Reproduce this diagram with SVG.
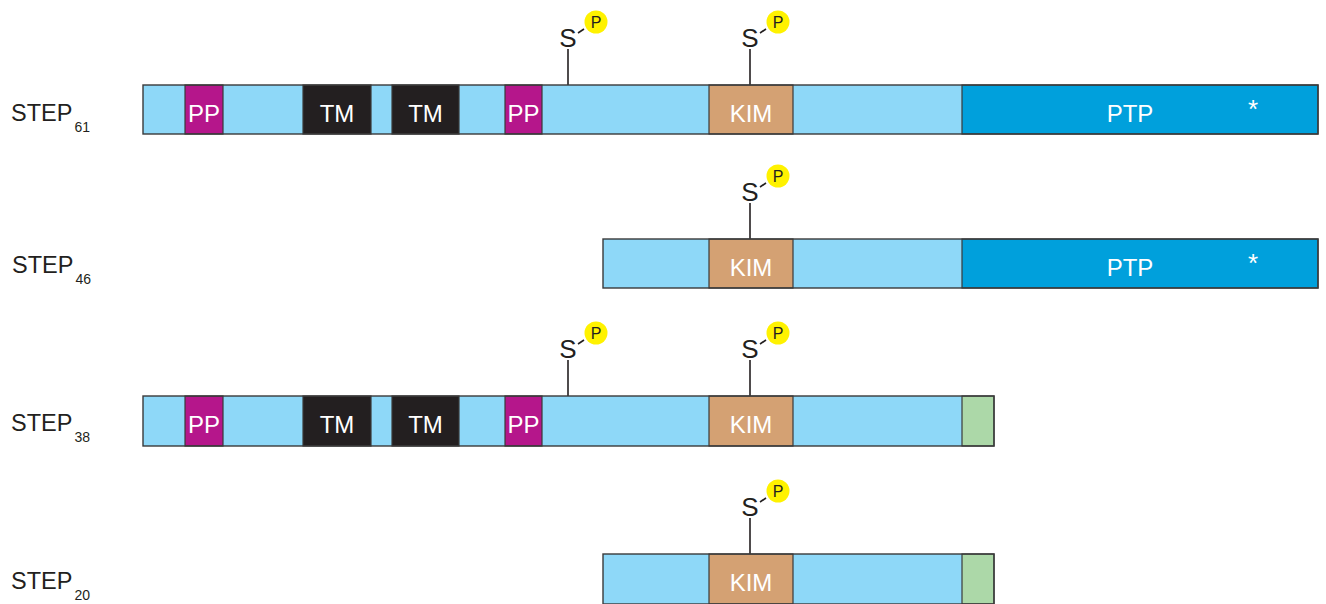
<svg xmlns="http://www.w3.org/2000/svg" width="1326" height="604" viewBox="0 0 1326 604">
  <style>
    .lb { fill: #8ed8f8; }
    .pp { fill: #b5168b; }
    .tm { fill: #231f20; }
    .kim { fill: #d4a173; }
    .ptp { fill: #00a0dc; }
    .gr { fill: #acd8a8; }
    .seg { stroke: #3a3a3a; stroke-width: 1.2; }
    .frame { fill: none; stroke: #3a3a3a; stroke-width: 1.4; }
    .dl { font-family: "Liberation Sans", Arial, sans-serif; font-size: 24px; fill: #ffffff; text-anchor: middle; }
    .ast { font-family: "Liberation Sans", Arial, sans-serif; font-size: 26px; fill: #ffffff; text-anchor: middle; }
    .name { font-family: "Liberation Sans", Arial, sans-serif; font-size: 23.5px; fill: #231f20; }
    .sub { font-size: 14px; }
    .s { font-family: "Liberation Sans", Arial, sans-serif; font-size: 26px; fill: #231f20; text-anchor: middle; }
    .p { font-family: "Liberation Sans", Arial, sans-serif; font-size: 16px; fill: #231f20; text-anchor: middle; }
    .stalk { stroke: #231f20; stroke-width: 1.6; fill: none; }
    .dot { fill: #fff200; }
  </style>
  <defs>
    <!-- phosphoserine marker, origin at the top of the stalk on the bar -->
    <g id="phos">
      <line class="stalk" x1="0" y1="0" x2="0" y2="-36"/>
      <text class="s" x="0" y="-38">S</text>
      <line class="stalk" x1="10" y1="-52" x2="16" y2="-56"/>
      <circle class="dot" cx="28" cy="-63" r="11.5"/>
      <text class="p" x="28" y="-57">P</text>
    </g>
  </defs>

  <!-- STEP61 -->
  <g id="step61">
    <text class="name" x="11" y="121">STEP<tspan class="sub" dx="2" dy="11">61</tspan></text>
    <use href="#phos" x="568" y="85"/>
    <use href="#phos" x="750" y="85"/>
    <rect class="lb" x="143" y="85" width="819" height="49"/>
    <rect class="pp seg" x="185" y="85" width="38" height="49"/>
    <rect class="tm seg" x="303" y="85" width="68" height="49"/>
    <rect class="tm seg" x="392" y="85" width="67" height="49"/>
    <rect class="pp seg" x="505" y="85" width="37" height="49"/>
    <rect class="kim seg" x="709" y="85" width="84" height="49"/>
    <rect class="ptp seg" x="962" y="85" width="356" height="49"/>
    <rect class="frame" x="143" y="85" width="1175" height="49"/>
    <text class="dl" x="204" y="122">PP</text>
    <text class="dl" x="337" y="122">TM</text>
    <text class="dl" x="425.500" y="122">TM</text>
    <text class="dl" x="523.500" y="122">PP</text>
    <text class="dl" x="751" y="122">KIM</text>
    <text class="dl" x="1130" y="122">PTP</text>
    <text class="ast" x="1253" y="118">*</text>
  </g>

  <!-- STEP46 -->
  <g id="step46">
    <text class="name" x="12" y="273">STEP<tspan class="sub" dx="2" dy="11">46</tspan></text>
    <use href="#phos" x="750" y="239"/>
    <rect class="lb" x="603" y="239" width="359" height="49"/>
    <rect class="kim seg" x="709" y="239" width="84" height="49"/>
    <rect class="ptp seg" x="962" y="239" width="356" height="49"/>
    <rect class="frame" x="603" y="239" width="715" height="49"/>
    <text class="dl" x="751" y="276">KIM</text>
    <text class="dl" x="1130" y="276">PTP</text>
    <text class="ast" x="1253" y="272">*</text>
  </g>

  <!-- STEP38 -->
  <g id="step38">
    <text class="name" x="11" y="431">STEP<tspan class="sub" dx="2" dy="11">38</tspan></text>
    <use href="#phos" x="568" y="396"/>
    <use href="#phos" x="750" y="396"/>
    <rect class="lb" x="143" y="396" width="819" height="50"/>
    <rect class="pp seg" x="185" y="396" width="38" height="50"/>
    <rect class="tm seg" x="303" y="396" width="68" height="50"/>
    <rect class="tm seg" x="392" y="396" width="67" height="50"/>
    <rect class="pp seg" x="505" y="396" width="37" height="50"/>
    <rect class="kim seg" x="709" y="396" width="84" height="50"/>
    <rect class="gr seg" x="962" y="396" width="32" height="50"/>
    <rect class="frame" x="143" y="396" width="851" height="50"/>
    <text class="dl" x="204" y="433">PP</text>
    <text class="dl" x="337" y="433">TM</text>
    <text class="dl" x="425.500" y="433">TM</text>
    <text class="dl" x="523.500" y="433">PP</text>
    <text class="dl" x="751" y="433">KIM</text>
  </g>

  <!-- STEP20 -->
  <g id="step20">
    <text class="name" x="11" y="589">STEP<tspan class="sub" dx="2" dy="11">20</tspan></text>
    <use href="#phos" x="750" y="554"/>
    <rect class="lb" x="603" y="554" width="359" height="50"/>
    <rect class="kim seg" x="709" y="554" width="84" height="50"/>
    <rect class="gr seg" x="962" y="554" width="32" height="50"/>
    <rect class="frame" x="603" y="554" width="391" height="50"/>
    <text class="dl" x="751" y="591">KIM</text>
  </g>
</svg>
